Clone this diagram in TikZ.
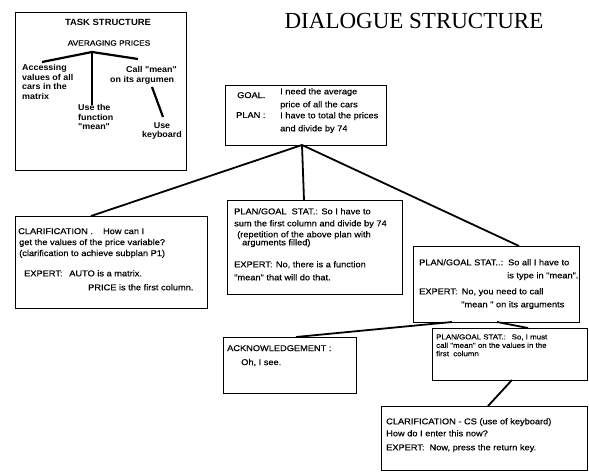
\documentclass[tikz,border=0pt]{standalone}
\usepackage{fontspec}
\setmainfont{Liberation Serif}
\newfontfamily\boxfont{Liberation Sans}[FakeStretch=1.1,FakeBold=0.4]
\newfontfamily\taskfont{Liberation Sans}[FakeStretch=1.05]
\usetikzlibrary{calc}
\begin{document}
\begin{tikzpicture}[x=1pt,y=-1pt,
  box/.style={draw, line width=0.8pt, inner sep=0pt, outer sep=0pt, anchor=north west},
  conn/.style={line width=1.8pt},
  tconn/.style={line width=2.2pt},
  txt/.style={anchor=north west, inner sep=0pt, align=left, font=\boxfont\fontsize{8.4}{11}\selectfont},
  smalltxt/.style={anchor=north west, inner sep=0pt, align=left, font=\boxfont\fontsize{7.2}{8.4}\selectfont},
  ttxt/.style={anchor=north west, inner sep=0pt, align=left, font=\taskfont\bfseries\fontsize{8.5}{9.8}\selectfont}]
\useasboundingbox (0,0) rectangle (589,473);

% ---------------- task structure ----------------
\node[box, minimum width=171pt, minimum height=158pt] (task) at (15,12) {};
\node[inner sep=0pt, font=\taskfont\bfseries\fontsize{9}{12}\selectfont] (tt) at (108,22) {TASK STRUCTURE};
\node[inner sep=0pt, font=\boxfont\fontsize{7.6}{9}\selectfont] (avg) at (109,43) {AVERAGING PRICES};
\coordinate (root) at (92,52);
\coordinate (tl) at (42,62);
\coordinate (tr) at (138,59);
\coordinate (tm) at (92,105);
\node[ttxt] (acc) at (22,64) {Accessing\\values of all\\cars in the\\matrix};
\node[ttxt] (fun) at (78,104) {Use the\\function\\"mean"};
\node[ttxt] (call) at (110,66) {\hspace{16pt}Call "mean"\\on its argumen};
\node[ttxt, align=center, anchor=north] (key) at (162,122) {Use\\keyboard};
\coordinate (ca) at (152,87);
\coordinate (kb) at (163,117);
\draw[tconn] (root) -- (tl);
\draw[tconn] (root) -- (tr);
\draw[tconn] (root) -- (tm);
\draw[tconn] (ca) -- (kb);

% ---------------- title ----------------
\node[inner sep=0pt, font=\fontsize{23}{26}\selectfont] (title) at (414,21) {DIALOGUE STRUCTURE};

% ---------------- goal ----------------
\node[box, minimum width=161pt, minimum height=60pt] (goal) at (225,85) {};
\node[txt] (goalA) at (237,92) {GOAL.};
\node[txt] (goalB) at (280,88) {I need the average\\[2pt]price of all the cars};
\node[txt] (planA) at (236,112) {PLAN :};
\node[txt] (planB) at (280,112) {I have to total the prices\\[2pt]and divide by 74};

% ---------------- clarification ----------------
\node[box, minimum width=192pt, minimum height=92pt] (clar) at (15,216) {};
\node[txt] (clarT) at (18,228) {CLARIFICATION .\hspace{1.2em}How can I\\
\hspace{1pt}get the values of the price variable?\\
\hspace{1pt}(clarification to achieve subplan P1)};
\node[txt] (clarE) at (24,270) {EXPERT:\hspace{0.8em}AUTO is a matrix.\\[3pt]
\hspace{64pt}PRICE is the first column.};

% ---------------- plan/goal stat (middle) ----------------
\node[box, minimum width=175pt, minimum height=94pt] (mid) at (227,200) {};
\node[txt] (midT) at (234,208) {PLAN/GOAL\hspace{0.6em}STAT.: So I have to\\[1pt]
sum the first column and divide by 74\\[0pt]
\hspace{3pt}(repetition of the above plan with\\[-3pt]
\hspace{8pt}arguments filled)};
\node[txt] (midE) at (234,261) {EXPERT:\hspace{0.4em}No, there is a function\\[2pt]
"mean" that will do that.};

% ---------------- plan/goal stat (right) ----------------
\node[box, minimum width=166pt, minimum height=76pt] (right) at (413,246) {};
\node[txt] (rightT) at (419,259) {PLAN/GOAL STAT..:\hspace{0.6em}So all I have to\\[2pt]
\hspace{88pt}is type in "mean".};
\node[txt] (rightE) at (419,288) {EXPERT:\hspace{0.5em}No, you need to call\\[2pt]
\hspace{42pt}"mean " on its arguments};

% ---------------- acknowledgement ----------------
\node[box, minimum width=133pt, minimum height=56pt] (ack) at (223,337) {};
\node[txt] (ackT) at (227,345) {ACKNOWLEDGEMENT :\\[3pt]
\hspace{14pt}Oh, I see.};

% ---------------- plan/goal stat (low) ----------------
\node[box, minimum width=155pt, minimum height=52pt] (low) at (432,328) {};
\node[smalltxt] (lowT) at (436,334) {PLAN/GOAL STAT.:\hspace{0.8em}So, I must\\
call "mean" on the values in the\\
first\hspace{0.6em}column};

% ---------------- clarification - CS ----------------
\node[box, minimum width=206pt, minimum height=64pt] (cs) at (381,406) {};
\node[txt] (csT) at (386,418) {CLARIFICATION - CS (use of keyboard)\\[1pt]
How do I enter this now?\\[3pt]
EXPERT:\hspace{0.6em}Now, press the return key.};

% ---------------- connectors ----------------
\coordinate (g0) at ($(goal.south west)+(77,0)$);
\coordinate (c0) at ($(clar.north west)+(76,0)$);
\coordinate (m0) at ($(mid.north west)+(77,0)$);
\coordinate (r0) at ($(right.north west)+(106,0)$);
\coordinate (r1) at ($(right.south west)+(39,0)$);
\coordinate (r2) at ($(right.south west)+(84,0)$);
\coordinate (a0) at ($(ack.north west)+(73,0)$);
\coordinate (l0) at ($(low.north west)+(96,0)$);
\coordinate (l1) at ($(low.south west)+(80,0)$);
\coordinate (s0) at ($(cs.north west)+(107,0)$);
\draw[conn] (g0) -- (c0);
\draw[conn] (g0) -- (m0);
\draw[conn] (g0) -- (r0);
\draw[conn] (r1) -- (a0);
\draw[conn] (r2) -- (l0);
\draw[conn] (l1) -- (s0);
\end{tikzpicture}
\end{document}
